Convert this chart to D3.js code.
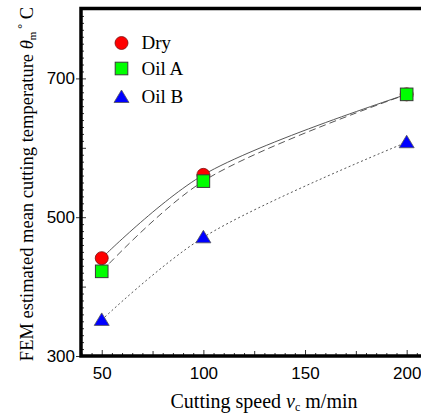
<!DOCTYPE html>
<html>
<head>
<meta charset="utf-8">
<script src="https://cdn.jsdelivr.net/npm/d3@7"></script>
<style>
  body { margin: 0; background: #fff; }
  svg { display: block; }
</style>
</head>
<body>
<div id="chart"></div>
<script>
// cutting speed (m/min) and estimated mean temperature (deg C)
const speeds = [50, 100, 200];
const dryTemp = [441, 561, 677];
const oilATemp = [422, 552, 677];
const oilBTemp = [352, 471, 608];
const seriesNames = ["Dry", "Oil A", "Oil B"];
const xTickLabels = [50, 100, 150, 200];
const yTickLabels = [300, 500, 700];

const W = 421, H = 417;
const serif = "'Liberation Serif', 'Times New Roman', serif";
const sans = "'Liberation Sans', Arial, sans-serif";

const svg = d3.select("#chart").append("svg")
  .attr("width", W).attr("height", H);

const x = d3.scaleLinear().domain([40, 210]).range([81.4, 427]);
const y = d3.scaleLinear().domain([300, 800]).range([356, 9]);

const series = [
  { name: seriesNames[0], values: dryTemp, shape: "circle", fill: "#ff0000", stroke: "#7a1010", dash: null },
  { name: seriesNames[1], values: oilATemp, shape: "square", fill: "#00ff00", stroke: "#3a3a3a", dash: "7,4" },
  { name: seriesNames[2], values: oilBTemp, shape: "triangle", fill: "#0000ff", stroke: "#555", dash: "2,2.5" },
];

// ticks
const tickCol = "#333";
function styleAxis(g) {
  g.select(".domain").remove();
  g.selectAll(".tick line").attr("stroke", tickCol).attr("stroke-width", 1);
}
const yMinor = d3.range(300, 801, 10).filter(v => v % 100 !== 0);
const yMid = [400, 600, 800];
svg.append("g").attr("transform", "translate(81,0)")
  .call(d3.axisLeft(y).tickValues(yMinor).tickSize(-3).tickFormat(""))
  .call(styleAxis);
svg.append("g").attr("transform", "translate(81,0)")
  .call(d3.axisLeft(y).tickValues(yMid).tickSize(-5).tickFormat(""))
  .call(styleAxis);
const yMajor = svg.append("g").attr("transform", "translate(81,0)")
  .call(d3.axisLeft(y).tickValues(yTickLabels).tickSize(5).tickPadding(1))
  .call(styleAxis);
yMajor.selectAll(".tick line").attr("x2", -5).attr("x1", 5);
yMajor.selectAll(".tick text")
  .attr("font-family", sans)
  .attr("font-size", 17).attr("fill", "#000");

const xMinor = d3.range(40, 211, 5).filter(v => v % 25 !== 0);
svg.append("g").attr("transform", "translate(0,356)")
  .call(d3.axisBottom(x).tickValues(xMinor).tickSize(-3).tickFormat(""))
  .call(styleAxis);
svg.append("g").attr("transform", "translate(0,356)")
  .call(d3.axisBottom(x).tickValues([75, 125, 175]).tickSize(-5).tickFormat(""))
  .call(styleAxis);
const xMajor = svg.append("g").attr("transform", "translate(0,356)")
  .call(d3.axisBottom(x).tickValues(xTickLabels).tickSize(6).tickPadding(5))
  .call(styleAxis);
xMajor.selectAll(".tick line").attr("y1", -6).attr("y2", 0);
xMajor.selectAll(".tick text")
  .attr("font-family", sans)
  .attr("font-size", 17).attr("fill", "#000");

// thick frame: left, bottom, top
svg.append("path")
  .attr("d", `M${W + 5},8.5 H81 V356 H${W + 5}`)
  .attr("fill", "none").attr("stroke", "#000").attr("stroke-width", 3.5);

// curves
const line = d3.line()
  .x((d, i) => x(speeds[i]))
  .y(d => y(d))
  .curve(d3.curveCatmullRom.alpha(0.5));
series.forEach(s => {
  svg.append("path")
    .attr("d", line(s.values))
    .attr("fill", "none")
    .attr("stroke", "#444")
    .attr("stroke-width", 0.9)
    .attr("stroke-dasharray", s.dash);
});

function drawMarker(g, shape, cx, cy, fill, stroke) {
  if (shape === "circle") {
    g.append("circle").attr("cx", cx).attr("cy", cy).attr("r", 6.5)
      .attr("fill", fill).attr("stroke", stroke).attr("stroke-width", 0.8);
  } else if (shape === "square") {
    g.append("rect").attr("x", cx - 6.3).attr("y", cy - 6.3)
      .attr("width", 12.6).attr("height", 12.6)
      .attr("fill", fill).attr("stroke", stroke).attr("stroke-width", 1);
  } else {
    g.append("path")
      .attr("d", `M${cx},${cy - 7} L${cx + 7.5},${cy + 5.5} L${cx - 7.5},${cy + 5.5} Z`)
      .attr("fill", fill).attr("stroke", stroke).attr("stroke-width", 0.8);
  }
}

const marks = svg.append("g");
series.forEach(s => {
  s.values.forEach((v, i) => drawMarker(marks, s.shape, x(speeds[i]), y(v), s.fill, s.stroke));
});

// legend
const legend = svg.append("g");
const legY = [43, 68.5, 97];
series.forEach((s, i) => {
  drawMarker(legend, s.shape, 121.5, legY[i], s.fill, s.stroke);
  legend.append("text")
    .attr("x", 141.5).attr("y", legY[i] + 6)
    .attr("font-family", serif)
    .attr("font-size", 19)
    .text(s.name);
});

// axis titles
const xt = svg.append("text")
  .attr("x", 264).attr("y", 408)
  .attr("text-anchor", "middle")
  .attr("font-family", serif)
  .attr("font-size", 20);
xt.append("tspan").text("Cutting speed ");
xt.append("tspan").attr("font-style", "italic").text("v");
xt.append("tspan").attr("font-size", 12).attr("dy", 3).text("c");
xt.append("tspan").attr("dy", -3).text(" m/min");

const yt = svg.append("text")
  .attr("transform", "translate(33,184) rotate(-90)")
  .attr("text-anchor", "middle")
  .attr("font-family", serif)
  .attr("font-size", 18.5);
yt.append("tspan").text("FEM estimated mean cutting temperature ");
yt.append("tspan").attr("font-style", "italic").text("θ");
yt.append("tspan").attr("font-size", 11).attr("dy", 3).text("m");
yt.append("tspan").attr("dy", -10).attr("font-size", 12).text("  °");
yt.append("tspan").attr("dy", 7).text(" C");
</script>
</body>
</html>
